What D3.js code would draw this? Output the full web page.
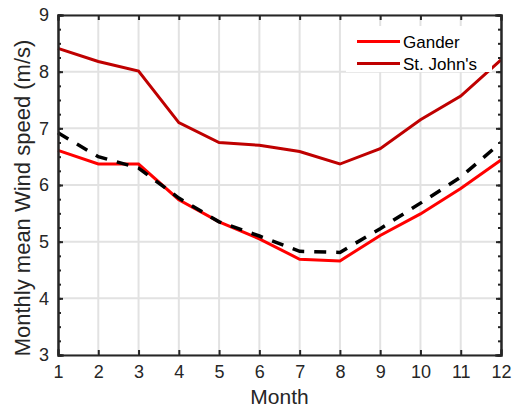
<!DOCTYPE html>
<html>
<head>
<meta charset="utf-8">
<script src="https://cdn.jsdelivr.net/npm/d3@7"></script>
<style>
  html, body { margin: 0; padding: 0; background: #fff; }
  svg { display: block; font-family: "Liberation Sans", Arial, Helvetica, sans-serif; }
</style>
</head>
<body>
<svg id="chart" width="519" height="413"></svg>
<script>
// Monthly mean wind speed (m/s)
const months = [1, 2, 3, 4, 5, 6, 7, 8, 9, 10, 11, 12];
const gander = [6.61, 6.37, 6.37, 5.74, 5.35, 5.05, 4.69, 4.66, 5.11, 5.49, 5.94, 6.44];
const stJohns = [8.41, 8.18, 8.01, 7.10, 6.75, 6.70, 6.59, 6.37, 6.64, 7.15, 7.57, 8.21];
const reference = [6.92, 6.50, 6.30, 5.77, 5.35, 5.10, 4.83, 4.81, 5.23, 5.68, 6.14, 6.75];
const yTicks = [3, 4, 5, 6, 7, 8, 9];
const legendNames = ["Gander", "St. John's"];

const W = 519, H = 413;
const margin = { left: 58, top: 15, right: 18, bottom: 58 };
const iw = W - margin.left - margin.right;
const ih = H - margin.top - margin.bottom;
const axisColor = "#262626";

const svg = d3.select("#chart");
const g = svg.append("g").attr("transform", `translate(${margin.left},${margin.top})`);

const x = d3.scaleLinear().domain([1, 12]).range([0, iw]);
const y = d3.scaleLinear().domain([3, 9]).range([ih, 0]);

// grid
g.append("g").selectAll("line").data(months).join("line")
  .attr("x1", d => x(d)).attr("x2", d => x(d)).attr("y1", 0).attr("y2", ih)
  .attr("stroke", "#e2e2e2").attr("stroke-width", 2);
g.append("g").selectAll("line").data(yTicks).join("line")
  .attr("x1", 0).attr("x2", iw).attr("y1", d => y(d)).attr("y2", d => y(d))
  .attr("stroke", "#e2e2e2").attr("stroke-width", 2);

// series
const line = d3.line().x((d, i) => x(months[i])).y(d => y(d));
g.append("path").datum(gander).attr("d", line)
  .attr("fill", "none").attr("stroke", "#ff0000").attr("stroke-width", 3);
g.append("path").datum(stJohns).attr("d", line)
  .attr("fill", "none").attr("stroke", "#bf0000").attr("stroke-width", 3);
g.append("path").datum(reference).attr("d", line)
  .attr("fill", "none").attr("stroke", "#000").attr("stroke-width", 3.5)
  .attr("stroke-dasharray", "12,10");

// axes (ticks inward, box on)
const minorY = d3.range(3, 9.001, 0.25);
const xAxisB = d3.axisBottom(x).tickValues(months).tickSize(-5).tickPadding(10).tickFormat(d3.format("d"));
const xAxisT = d3.axisTop(x).tickValues(months).tickSize(-5).tickFormat("");
const yAxisL = d3.axisLeft(y).tickValues(yTicks).tickSize(-5).tickPadding(9).tickFormat(d3.format("d"));
const yAxisR = d3.axisRight(y).tickValues(yTicks).tickSize(-5).tickFormat("");
const yMinorL = d3.axisLeft(y).tickValues(minorY).tickSize(-3).tickFormat("");
const yMinorR = d3.axisRight(y).tickValues(minorY).tickSize(-3).tickFormat("");

function style(sel) {
  sel.selectAll("path.domain").attr("stroke", axisColor).attr("stroke-width", 2);
  sel.selectAll(".tick line").attr("stroke", axisColor).attr("stroke-width", 2);
  sel.selectAll(".tick text").attr("fill", axisColor).attr("font-size", 18);
}
g.append("g").attr("transform", `translate(0,${ih})`).call(xAxisB).call(style);
g.append("g").call(xAxisT).call(style);
g.append("g").call(yMinorL).call(style);
g.append("g").attr("transform", `translate(${iw},0)`).call(yMinorR).call(style);
g.append("g").call(yAxisL).call(style);
g.append("g").attr("transform", `translate(${iw},0)`).call(yAxisR).call(style);
g.selectAll("path.domain").attr("stroke-linecap", "square");

// axis labels
svg.append("text").attr("x", margin.left + iw / 2).attr("y", 404)
  .attr("text-anchor", "middle").attr("font-size", 21).attr("fill", axisColor).text("Month");
svg.append("text").attr("transform", `translate(30,198) rotate(-90)`)
  .attr("text-anchor", "middle").attr("font-size", 22).attr("fill", axisColor)
  .text("Monthly mean Wind speed (m/s)");

// legend
const lg = svg.append("g");
lg.append("rect").attr("x", 346).attr("y", 26).attr("width", 146).attr("height", 46).attr("fill", "#fff");
const legendColors = ["#ff0000", "#bf0000"];
legendNames.forEach((name, i) => {
  const ly = 41.5 + i * 22;
  lg.append("line").attr("x1", 357).attr("x2", 400).attr("y1", ly).attr("y2", ly)
    .attr("stroke", legendColors[i]).attr("stroke-width", 3);
  lg.append("text").attr("x", 403).attr("y", ly + 6).attr("font-size", 17)
    .attr("fill", "#000").text(name);
});
</script>
</body>
</html>
